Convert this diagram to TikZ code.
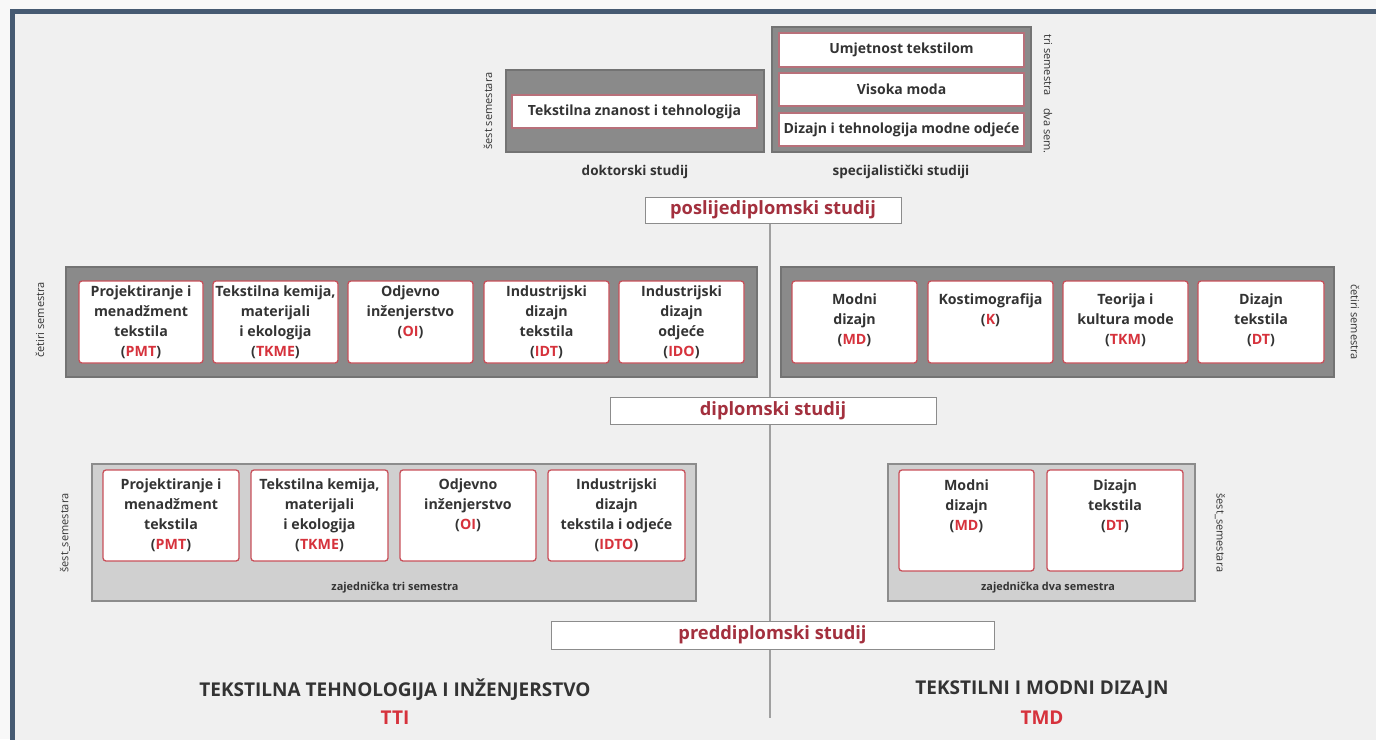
\documentclass[tikz,border=0pt]{standalone}
\usepackage{fontspec}
\setmainfont{Open Sans}
\usetikzlibrary{calc}
\definecolor{outer}{HTML}{F8F8F8}
\definecolor{inner}{HTML}{F0F0F0}
\definecolor{frameblue}{HTML}{465A72}
\definecolor{txt}{HTML}{333333}
\definecolor{gfill}{HTML}{8A8A8A}
\definecolor{gbord}{HTML}{737373}
\definecolor{lfill}{HTML}{D0D0D0}
\definecolor{lbord}{HTML}{8C8C8C}
\definecolor{ired}{HTML}{C8505A}
\definecolor{tred}{HTML}{B8707A}
\definecolor{lvlbord}{HTML}{8C8C8C}
\definecolor{lvlred}{HTML}{A3303E}
\definecolor{abbr}{HTML}{D6323C}
\definecolor{lineg}{HTML}{A0A0A0}
\pgfdeclarelayer{back}
\pgfdeclarelayer{lines}
\pgfsetlayers{back,lines,main}
\newcommand\ab[1]{(\textcolor{abbr}{#1})}
\newcommand\bx[6]{\node[#2, anchor=north west, minimum width={#5-#3}, minimum height={#6-#4}] (#1) at (#3,#4) {};}
\tikzset{
  every node/.style={inner sep=0pt, outer sep=0pt, text=txt},
  graybox/.style={draw=gbord, fill=gfill, line width=1.2pt},
  lightbox/.style={draw=lbord, fill=lfill, line width=1.5pt},
  ibox/.style={draw=ired, fill=white, line width=1.3pt, rounded corners=3pt},
  tbox/.style={draw=tred, fill=white, line width=2.5pt},
  lvl/.style={draw=lvlbord, fill=white, line width=1pt},
  lvltxt/.style={font=\bfseries\fontsize{18.3}{22}\selectfont, text=lvlred},
  btxt/.style={font=\bfseries\fontsize{14.2}{20}\selectfont, align=center, anchor=north},
  ttxt/.style={font=\bfseries\fontsize{14}{16}\selectfont},
  captxt/.style={font=\bfseries\fontsize{13.5}{16}\selectfont},
  rottxt/.style={font=\fontsize{11}{13}\selectfont},
  smalltxt/.style={font=\bfseries\fontsize{10.9}{12}\selectfont},
  titletxt/.style={font=\bfseries\fontsize{19}{22}\selectfont},
  abbrtxt/.style={font=\bfseries\fontsize{19}{22}\selectfont, text=abbr},
  conn/.style={draw=lineg, line width=1.2pt},
}
\begin{document}
\begin{tikzpicture}[x=1pt,y=-1pt]
\useasboundingbox (0,0) rectangle (1376,739);
\begin{pgfonlayer}{back}
\fill[outer] (0,0) rectangle (1376,739);
\fill[inner] (12.5,11.5) rectangle (1380,745);
\draw[frameblue, line width=5pt] (12.5,745) -- (12.5,11.5) -- (1380,11.5);
\end{pgfonlayer}

% ---------- top: postgraduate ----------
\bx{dok}{graybox}{506}{70}{764}{152}
\bx{dokin}{tbox}{512}{95}{757}{128}
\node[ttxt] (dokint) at (dokin.center) {Tekstilna znanost i tehnologija};
\node[rottxt, rotate=90] (dokrot) at (488,111) {šest semestara};
\node[captxt] (dokcap) at (635,172) {doktorski studij};

\bx{spec}{graybox}{772}{27}{1031}{152}
\bx{spa}{tbox}{779}{33}{1024}{67}
\bx{spb}{tbox}{779}{73}{1024}{106}
\bx{spc}{tbox}{779}{113}{1024}{146}
\node[ttxt] (spat) at (spa.center) {Umjetnost tekstilom};
\node[ttxt] (spbt) at (spb.center) {Visoka moda};
\node[ttxt] (spct) at (spc.center) {Dizajn i tehnologija modne odjeće};
\node[rottxt, rotate=-90] (sprot1) at (1048,65) {tri semestra};
\node[rottxt, rotate=-90] (sprot2) at (1048,131) {dva sem.};
\node[captxt] (speccap) at (901,172) {specijalistički studiji};

\bx{posl}{lvl}{645}{197}{901}{223}
\node[lvltxt] (poslt) at (posl.center) {poslijediplomski studij};

% ---------- middle: graduate ----------
\bx{gl}{graybox}{66}{267}{757}{377}
\bx{g1}{ibox}{79}{281}{203}{363}
\bx{g2}{ibox}{213}{281}{338}{363}
\bx{g3}{ibox}{348}{281}{473}{363}
\bx{g4}{ibox}{484}{281}{609}{363}
\bx{g5}{ibox}{619}{281}{744}{363}
\node[btxt] (g1t) at (141,285.5) {Projektiranje i\\menadžment\\tekstila\\\ab{PMT}};
\node[btxt] (g2t) at (275.5,285.5) {Tekstilna kemija,\\materijali\\i ekologija\\\ab{TKME}};
\node[btxt] (g3t) at (410.5,285.5) {Odjevno\\inženjerstvo\\\ab{OI}};
\node[btxt] (g4t) at (546.5,285.5) {Industrijski\\dizajn\\tekstila\\\ab{IDT}};
\node[btxt] (g5t) at (681.5,285.5) {Industrijski\\dizajn\\odjeće\\\ab{IDO}};
\node[rottxt, rotate=90] (glrot) at (40,320) {četiri semestra};

\bx{gr}{graybox}{781}{267}{1334}{377}
\bx{h1}{ibox}{792}{281}{917}{363}
\bx{h2}{ibox}{928}{281}{1053}{363}
\bx{h3}{ibox}{1063}{281}{1188}{363}
\bx{h4}{ibox}{1198}{281}{1324}{363}
\node[btxt] (h1t) at (854.5,293.5) {Modni\\dizajn\\\ab{MD}};
\node[btxt] (h2t) at (990.5,293.5) {Kostimografija\\\ab{K}};
\node[btxt] (h3t) at (1125.5,293.5) {Teorija i\\kultura mode\\\ab{TKM}};
\node[btxt] (h4t) at (1261,293.5) {Dizajn\\tekstila\\\ab{DT}};
\node[rottxt, rotate=-90] (grrot) at (1355,322) {četiri semestra};

\bx{dipl}{lvl}{610}{397}{936}{424}
\node[lvltxt] (diplt) at (dipl.center) {diplomski studij};

% ---------- bottom: undergraduate ----------
\bx{ul}{lightbox}{92}{464}{696}{601}
\bx{u1}{ibox}{103}{470}{239}{561}
\bx{u2}{ibox}{251}{470}{388}{561}
\bx{u3}{ibox}{400}{470}{536}{561}
\bx{u4}{ibox}{548}{470}{685}{561}
\node[btxt] (u1t) at (171,478.5) {Projektiranje i\\menadžment\\tekstila\\\ab{PMT}};
\node[btxt] (u2t) at (319.5,478.5) {Tekstilna kemija,\\materijali\\i ekologija\\\ab{TKME}};
\node[btxt] (u3t) at (468,478.5) {Odjevno\\inženjerstvo\\\ab{OI}};
\node[btxt] (u4t) at (616.5,478.5) {Industrijski\\dizajn\\tekstila i odjeće\\\ab{IDTO}};
\node[smalltxt] (ulcap) at (395,588) {zajednička tri semestra};
\node[rottxt, rotate=90] (ulrot) at (65,533) {šest\_semestara};

\bx{ur}{lightbox}{888}{464}{1195}{601}
\bx{v1}{ibox}{899}{470}{1034}{571}
\bx{v2}{ibox}{1047}{470}{1183}{571}
\node[btxt] (v1t) at (966.5,479.5) {Modni\\dizajn\\\ab{MD}};
\node[btxt] (v2t) at (1115,479.5) {Dizajn\\tekstila\\\ab{DT}};
\node[smalltxt] (urcap) at (1048,588) {zajednička dva semestra};
\node[rottxt, rotate=-90] (urrot) at (1220,533) {šest\_semestara};

\bx{pred}{lvl}{551}{621}{994}{649}
\node[lvltxt] (predt) at (pred.center) {preddiplomski studij};

% ---------- programme titles ----------
\node[titletxt] (tti) at (395,690) {TEKSTILNA TEHNOLOGIJA I INŽENJERSTVO};
\node[abbrtxt] (ttia) at (395,718) {TTI};
\node[titletxt] (tmd) at (1042,690) {TEKSTILNI I MODNI DIZAJN};
\node[abbrtxt] (tmda) at (1042,718) {TMD};

% ---------- spine ----------
\coordinate (spineend) at (770,718);
\begin{pgfonlayer}{lines}
\draw[conn] (posl.south -| spineend) -- (spineend);
\end{pgfonlayer}
\end{tikzpicture}
\end{document}
